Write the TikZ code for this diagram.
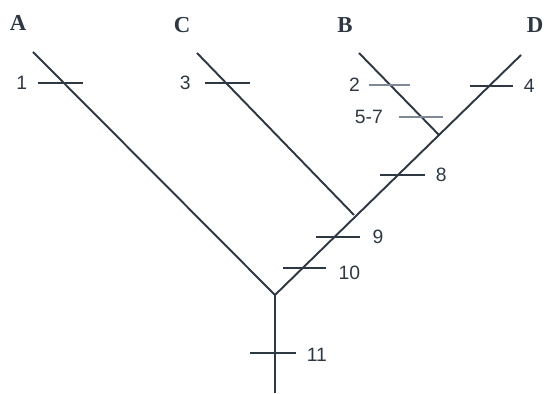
\documentclass[tikz,border=0pt]{standalone}
\usepackage{fontspec}
\usepackage{tikz}
\usetikzlibrary{positioning}
\setmainfont{Liberation Serif}
\newfontfamily\numfont{Liberation Sans}
\definecolor{treeInk}{HTML}{2E3843}
\definecolor{paleInk}{HTML}{7E8896}

\begin{document}
\begin{tikzpicture}[x=0.02cm, y=-0.02cm,
    branch/.style={draw=treeInk, line width=1.1pt},
    tick/.style={draw=treeInk, line width=0.9pt},
    paletick/.style={draw=paleInk, line width=0.9pt},
    taxon/.style={inner sep=0pt, text=treeInk, font=\fontsize{13}{15}\selectfont\bfseries},
    num/.style={inner sep=0pt, text=treeInk, font=\numfont\fontsize{11}{13}\selectfont}]

    \useasboundingbox (0,0) rectangle (544,394);

    % tips, junctions and base
    \coordinate (tA) at (33,52);
    \coordinate (tC) at (197,53);
    \coordinate (tB) at (359,53);
    \coordinate (tD) at (521,55);
    \coordinate (jBD) at (439,135);
    \coordinate (jCBD) at (354,215);
    \coordinate (root) at (275,295);
    \coordinate (base) at (275,393);

    \node (A) [taxon] at (18,23) {A};
    \node (C) [taxon] at (182,25) {C};
    \node (B) [taxon] at (345,25) {B};
    \node (D) [taxon] at (535,25) {D};

    \draw[branch] (base) -- (root) -- (tA);
    \draw[branch] (root) -- (tD);
    \draw[branch] (jCBD) -- (tC);
    \draw[branch] (jBD) -- (tB);

    % character ticks
    \coordinate (k1a) at (38,83);   \coordinate (k1b) at (83,83);
    \coordinate (k3a) at (205,83);  \coordinate (k3b) at (250,83);
    \coordinate (k2a) at (369,85);  \coordinate (k2b) at (410,85);
    \coordinate (k57a) at (399,117); \coordinate (k57b) at (443,117);
    \coordinate (k4a) at (470,86);  \coordinate (k4b) at (513,86);
    \coordinate (k8a) at (380,175); \coordinate (k8b) at (425,175);
    \coordinate (k9a) at (316,237); \coordinate (k9b) at (360,237);
    \coordinate (k10a) at (283,268); \coordinate (k10b) at (326,268);
    \coordinate (k11a) at (250,353); \coordinate (k11b) at (296,353);

    \draw[tick] (k1a) -- (k1b);
    \draw[tick] (k3a) -- (k3b);
    \draw[paletick] (k2a) -- (k2b);
    \draw[paletick] (k57a) -- (k57b);
    \draw[tick] (k4a) -- (k4b);
    \draw[tick] (k8a) -- (k8b);
    \draw[tick] (k9a) -- (k9b);
    \draw[tick] (k10a) -- (k10b);
    \draw[tick] (k11a) -- (k11b);

    \node (n1) [num, left=6pt of k1a] {1};
    \node (n3) [num, left=8pt of k3a] {3};
    \node (n2) [num, left=5pt of k2a] {2};
    \node (n57) [num, left=9pt of k57a] {5-7};
    \node (n4) [num, right=6pt of k4b] {4};
    \node (n8) [num, right=6pt of k8b] {8};
    \node (n9) [num, right=7pt of k9b] {9};
    \node (n10) [num, right=7pt of k10b, yshift=-3pt] {10};
    \node (n11) [num, right=6pt of k11b, yshift=-1pt] {11};
\end{tikzpicture}
\end{document}
